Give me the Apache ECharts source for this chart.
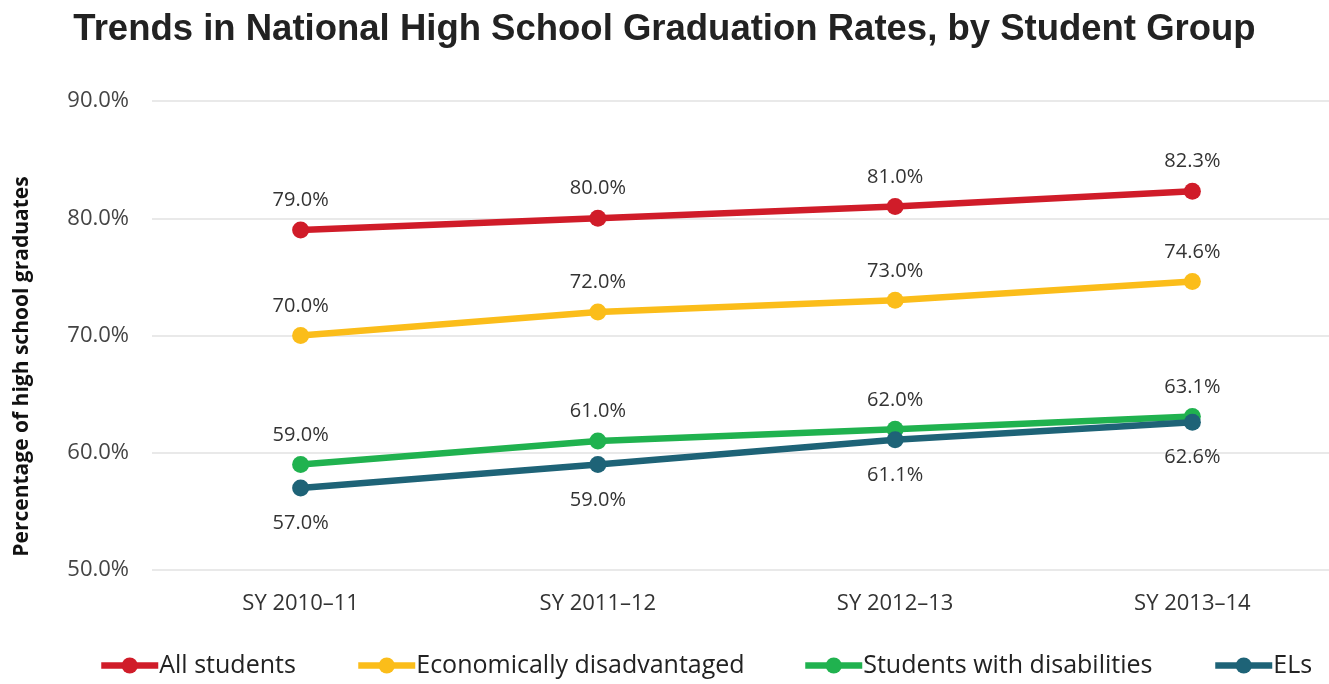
<!DOCTYPE html>
<html>
<head>
<meta charset="utf-8">
<script src="https://cdn.jsdelivr.net/npm/echarts@6/dist/echarts.min.js"></script>
<style>
  html, body { margin: 0; padding: 0; background: #fff; overflow: hidden; }
  #chart { width: 1329px; height: 684px; }
</style>
</head>
<body>
<div id="chart"></div>
<script>
// School years on the category axis
const years = ['SY 2010\u201311', 'SY 2011\u201312', 'SY 2012\u201313', 'SY 2013\u201314'];

// Graduation rates (%) per student group
const allStudents = [79.0, 80.0, 81.0, 82.3];
const econDisadvantaged = [70.0, 72.0, 73.0, 74.6];
const withDisabilities = [59.0, 61.0, 62.0, 63.1];
const englishLearners = [57.0, 59.0, 61.1, 62.6];

const groupNames = ['All students', 'Economically disadvantaged', 'Students with disabilities', 'ELs'];
const groupColors = ['#d01c29', '#fbbd1a', '#20b24f', '#1e6377'];

const textFont = '"Open Sans", "DejaVu Sans", sans-serif';

function makeSeries(name, values, color, labelPos) {
  return {
    name: name,
    type: 'line',
    data: values,
    symbol: 'circle',
    symbolSize: 17,
    lineStyle: { width: 6.5, color: color },
    itemStyle: { color: color },
    label: {
      show: true,
      position: labelPos,
      distance: labelPos === 'top' ? 11 : 17,
      formatter: p => p.value.toFixed(1) + '%',
      fontFamily: textFont,
      fontSize: 20,
      color: '#333'
    },
    emphasis: { disabled: true },
    z: 3
  };
}

// one legend block per group so each entry sits at its own spot on the bottom row
const legendLefts = [93, 350, 797, 1207];
const legends = groupNames.map((n, i) => ({
  data: [n],
  left: legendLefts[i],
  top: 648,
  itemWidth: 57,
  itemHeight: 20,
  itemGap: 0,
  lineStyle: { width: 6.5 },
  textStyle: { fontFamily: textFont, fontSize: 25, color: '#222', padding: [0, 0, 0, -4] }
}));

const chart = echarts.init(document.getElementById('chart'), null, { renderer: 'canvas' });
chart.setOption({
  animation: false,
  backgroundColor: '#fff',
  title: {
    text: 'Trends in National High School Graduation Rates, by Student Group',
    left: 'center',
    top: 6,
    textStyle: {
      fontFamily: '"Liberation Sans", Arial, sans-serif',
      fontWeight: 'bold',
      fontSize: 36.5,
      color: '#222'
    }
  },
  legend: legends,
  grid: {
    left: 152, width: 1189, top: 101, bottom: 114,
    containLabel: false, outerBoundsMode: 'none'
  },
  xAxis: {
    type: 'category',
    data: years,
    boundaryGap: true,
    axisLine: { show: false },
    axisTick: { show: false },
    axisLabel: { fontFamily: textFont, fontSize: 22, color: '#333', margin: 23 }
  },
  yAxis: {
    type: 'value',
    min: 50,
    max: 90,
    interval: 10,
    name: 'Percentage of high school graduates',
    nameLocation: 'middle',
    nameGap: 119,
    nameTextStyle: {
      fontFamily: textFont, fontSize: 21, fontWeight: 'bold', color: '#111',
      padding: [0, 62, 0, 0]
    },
    axisLine: { show: false },
    axisTick: { show: false },
    axisLabel: {
      fontFamily: textFont, fontSize: 22, color: '#444', margin: 23,
      formatter: v => v.toFixed(1) + '%'
    },
    splitLine: { lineStyle: { color: '#e2e2e2', width: 1.5 } }
  },
  series: [
    makeSeries(groupNames[0], allStudents, groupColors[0], 'top'),
    makeSeries(groupNames[1], econDisadvantaged, groupColors[1], 'top'),
    makeSeries(groupNames[2], withDisabilities, groupColors[2], 'top'),
    makeSeries(groupNames[3], englishLearners, groupColors[3], 'bottom')
  ]
});
</script>
</body>
</html>
